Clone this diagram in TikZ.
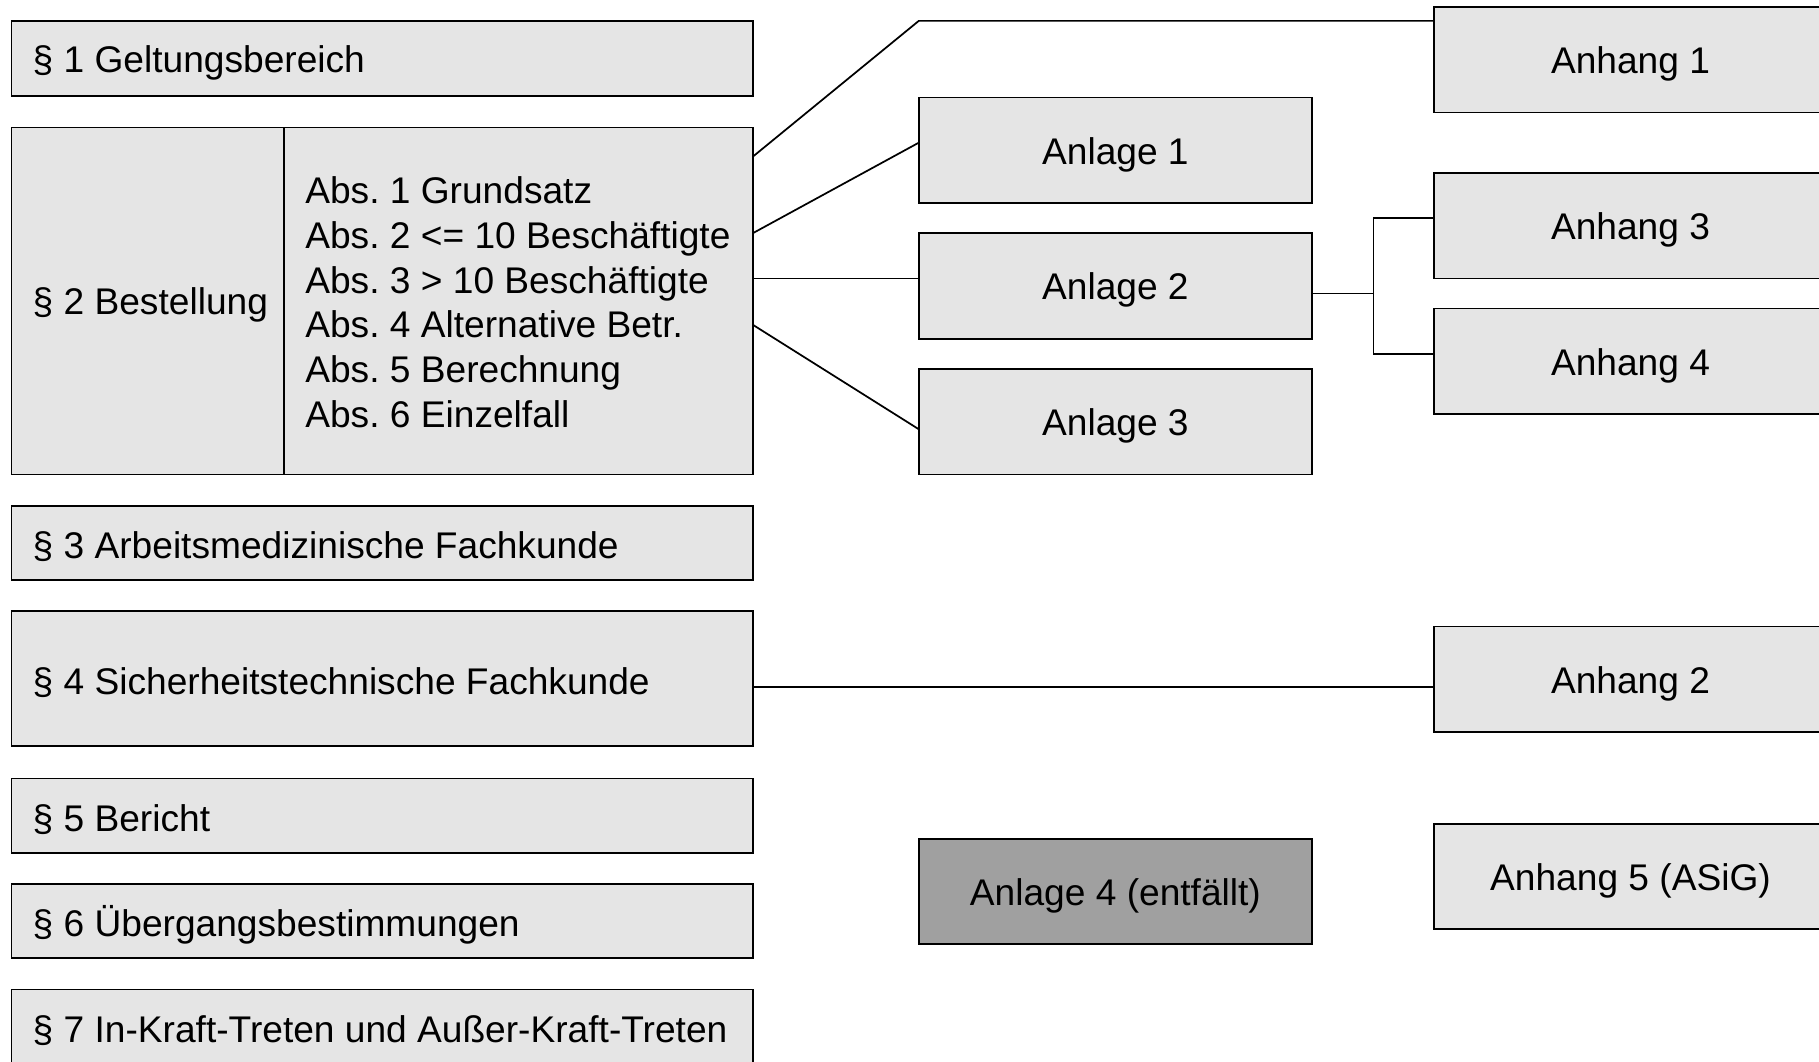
\documentclass[tikz,border=0pt]{standalone}
\usepackage{fontspec}
\setmainfont{Liberation Sans}
\usetikzlibrary{calc}
\definecolor{boxfill}{RGB}{229,229,229}
\definecolor{darkfill}{RGB}{160,160,160}
\frenchspacing
\begin{document}
\begin{tikzpicture}[x=1pt,y=-1pt,
  every node/.style={font=\fontsize{32}{38.6}\selectfont},
  box/.style={draw=black, line width=1.5pt, fill=boxfill, rectangle, outer sep=0pt, inner sep=0pt, anchor=north west},
  para/.style={box, minimum width=639pt},
  anl/.style={box, minimum width=339pt, minimum height=91pt, align=center, text height=31pt, text depth=7pt},
  ptext/.style={anchor=west, inner sep=0pt, align=left},
  conn/.style={draw=black, line width=1.5pt}
]
\path[use as bounding box, clip] (0,0) rectangle (1568,915);
\fill[white] (0,0) rectangle (1568,915);

% left column
\node[para, minimum height=65pt] (p1) at (10,18) {};
\node[ptext] (t1) at ($(p1.west)+(18,3.5)$) {§ 1 Geltungsbereich};

\node[box, minimum width=235pt, minimum height=299pt] (p2l) at (10,110) {};
\node[box, minimum width=404pt, minimum height=299pt] (p2r) at (245,110) {};
\node[ptext] (t2l) at ($(p2l.west)+(18,3.5)$) {§ 2 Bestellung};
\node[ptext] (t2r) at ($(p2r.west)+(18,1)$) {\frenchspacing Abs. 1 Grundsatz\\Abs. 2 <= 10 Beschäftigte\\Abs. 3 > 10 Beschäftigte\\Abs. 4 Alternative Betr.\\Abs. 5 Berechnung\\Abs. 6 Einzelfall};

\node[para, minimum height=64pt] (p3) at (10,436) {};
\node[ptext] (t3) at ($(p3.west)+(18,3.5)$) {§ 3 Arbeitsmedizinische Fachkunde};

\node[para, minimum height=116pt] (p4) at (10,527) {};
\node[ptext] (t4) at ($(p4.west)+(18,3.5)$) {§ 4 Sicherheitstechnische Fachkunde};

\node[para, minimum height=64pt] (p5) at (10,671) {};
\node[ptext] (t5) at ($(p5.west)+(18,3.5)$) {§ 5 Bericht};

\node[para, minimum height=64pt] (p6) at (10,762) {};
\node[ptext] (t6) at ($(p6.west)+(18,3.5)$) {§ 6 Übergangsbestimmungen};

\node[para, minimum height=64pt] (p7) at (10,853) {};
\node[ptext] (t7) at ($(p7.west)+(18,3.5)$) {§ 7 In-Kraft-Treten und Außer-Kraft-Treten};

% Anlagen
\node[anl] (anl1) at (792,84) {Anlage 1};
\node[anl] (anl2) at (792,201) {Anlage 2};
\node[anl] (anl3) at (792,318) {Anlage 3};
\node[anl, fill=darkfill] (anl4) at (792,723) {Anlage 4 (entfällt)};

% Anhänge
\node[anl] (anh1) at (1236,6) {Anhang 1};
\node[anl] (anh3) at (1236,149) {Anhang 3};
\node[anl] (anh4) at (1236,266) {Anhang 4};
\node[anl] (anh2) at (1236,540) {Anhang 2};
\node[anl] (anh5) at (1236,710) {Anhang 5 (ASiG)};

% connectors
\draw[conn] ($(p2r.north east)+(0,25)$) -- ($(anl1.north west)+(0,-66)$) -- ($(anh1.north west)+(0,12)$);
\draw[conn] ($(p2r.north east)+(0,91)$) -- ($(anl1.north west)+(0,39)$);
\draw[conn] ($(p2r.north east)+(0,130)$) -- ($(anl2.north west)+(0,39)$);
\draw[conn] ($(p2r.north east)+(0,170)$) -- ($(anl3.north west)+(0,52)$);
\coordinate (br) at ($(anl2.north east)+(53,52)$);
\draw[conn] ($(anl2.north east)+(0,52)$) -- (br);
\draw[conn] ($(anh3.north west)+(0,39)$) -| (br);
\draw[conn] (br) |- ($(anh4.north west)+(0,39)$);
\draw[conn] ($(p4.north east)+(0,65)$) -- ($(anh2.north west)+(0,52)$);
\end{tikzpicture}
\end{document}
